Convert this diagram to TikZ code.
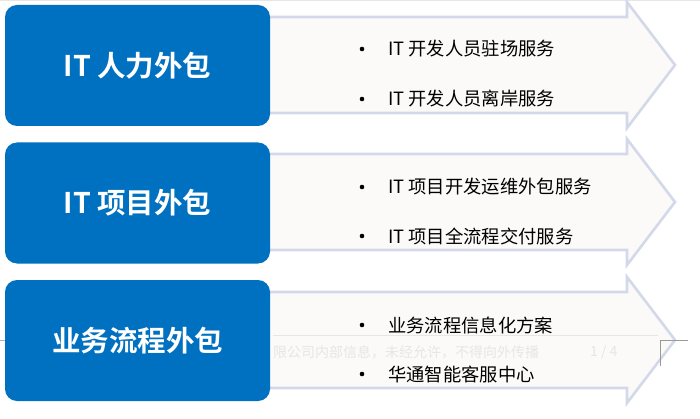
\documentclass[tikz,border=0pt]{standalone}
\usepackage{fontspec}
\setmainfont{Noto Sans CJK SC}
\newfontfamily\cjkbold{Noto Sans CJK SC Bold}
\definecolor{boxblue}{HTML}{0070C0}
\definecolor{arrowfill}{HTML}{FBFAF9}
\definecolor{arrowline}{HTML}{D3D9E8}
\definecolor{faint}{HTML}{E6E6E6}
\begin{document}
\begin{tikzpicture}[x=1pt,y=-1pt,
  titlebox/.style={draw=none,fill=boxblue,rounded corners=12pt,minimum width=265pt,minimum height=121pt,inner sep=0pt,text=white,font=\cjkbold\fontsize{28.5}{32}\selectfont},
  bigarrow/.style={fill=arrowfill,draw=arrowline,line width=2.6pt,line join=miter},
  item/.style={anchor=west,inner sep=0pt,font=\fontsize{18.3}{22}\selectfont},
  dot/.style={circle,fill=black,inner sep=0pt,minimum size=4.6pt},
  footer/.style={anchor=west,inner sep=0pt,text=faint,font=\fontsize{14}{16}\selectfont}]
\useasboundingbox (0,0) rectangle (700,419);
\fill[white] (0,0) rectangle (700,419);
\draw[faint,line width=1pt] (0,1) -- (700,1);
% arrows
\foreach \c/\n in {65/a1,202/a2,340/a3}{
  \draw[bigarrow] (255,\c-48) -- (627,\c-48) -- (627,\c-63) -- (675,\c) -- (627,\c+63) -- (627,\c+48) -- (255,\c+48) -- cycle;
}
% footer artifacts
\draw[faint,line width=0.8pt] (273,335) -- (658,335);
\draw[gray!60,line width=0.6pt] (0,340) -- (5,340);
\draw[gray!80,line width=0.6pt] (660,340) -- (688,340);
\draw[gray!80,line width=0.6pt] (660,340) -- (660,366);
\node[footer] (ft) at (273,352) {限公司内部信息，未经允许，不得向外传播};
\node[footer] (pg) at (590,352) {1 / 4};
% title boxes
\node[titlebox] (b1) at (137.5,65.5) {IT 人力外包};
\node[titlebox] (b2) at (137.5,203) {IT 项目外包};
\node[titlebox] (b3) at (137.5,340.5) {业务流程外包};
% items
\node[dot] (d11) at (362,49) {};
\node[item] (t11) at (388,49) {IT 开发人员驻场服务};
\node[dot] (d12) at (362,99) {};
\node[item] (t12) at (388,99) {IT 开发人员离岸服务};
\node[dot] (d21) at (362,187) {};
\node[item] (t21) at (388,187) {IT 项目开发运维外包服务};
\node[dot] (d22) at (362,236) {};
\node[item] (t22) at (388,236) {IT 项目全流程交付服务};
\node[dot] (d31) at (362,325) {};
\node[item] (t31) at (388,325) {业务流程信息化方案};
\node[dot] (d32) at (362,374) {};
\node[item] (t32) at (388,374) {华通智能客服中心};
\end{tikzpicture}
\end{document}
